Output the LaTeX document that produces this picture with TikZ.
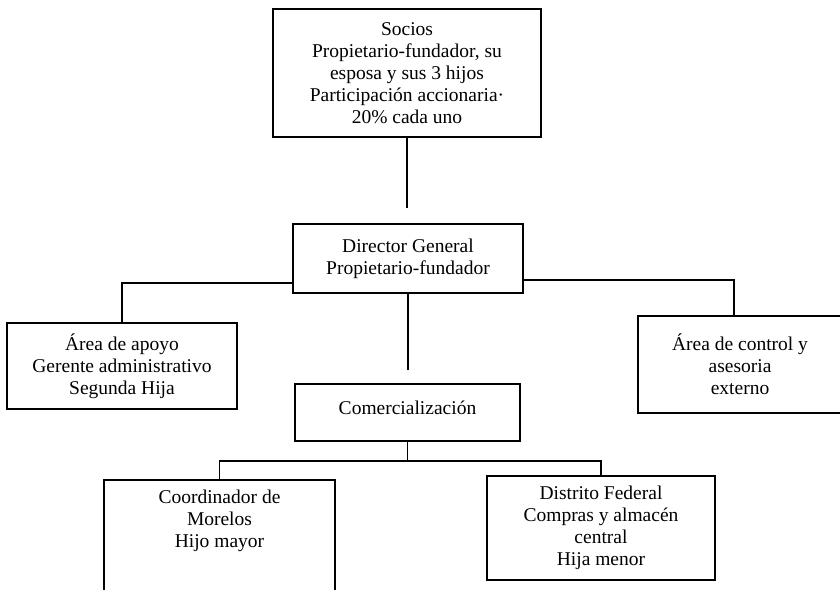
\documentclass[tikz,border=0pt]{standalone}
\usepackage{fontspec}
\setmainfont{Liberation Serif}
\begin{document}
\begin{tikzpicture}[x=1pt,y=-1pt,
  box/.style={draw, line width=1.5pt, align=center, inner sep=0pt,
    font=\fontsize{19.5}{22}\selectfont},
  txt/.style={align=center, inner sep=0pt, font=\fontsize{19.5}{22}\selectfont},
  link/.style={line width=1.5pt}]
\fill[white] (0,0) rectangle (840,589);
\useasboundingbox (0,0) rectangle (840,589);
\clip (0,0) rectangle (840,589);

% boxes of the chart
\node[box, minimum width=268, minimum height=128] (socios) at (407,73)
  {Socios\\Propietario-fundador, su\\esposa y sus 3 hijos\\Participación accionaria·\\20\% cada uno};
\node[box, minimum width=230, minimum height=69] (director) at (408,258.5)
  {Director General\\Propietario-fundador};
\node[box, minimum width=230, minimum height=86] (apoyo) at (122,366)
  {Área de apoyo\\Gerente administrativo\\Segunda Hija};
\node[box, minimum width=204, minimum height=97] (control) at (740,364.5)
  {Área de control y\\asesoria\\externo};
\node[box, minimum width=225, minimum height=57] (comer) at (407.5,412.5) {};
\node[txt] (comertxt) at (407.5,408) {Comercialización};
\node[box, minimum width=231, minimum height=140] (coordbox) at (219.5,550) {};
\node[txt, anchor=north] (coordtxt) at ([yshift=-11pt]coordbox.north)
  {Coordinador de\\Morelos\\Hijo mayor};
\node[box, minimum width=228, minimum height=104] (df) at (601,528)
  {Distrito Federal\\Compras y almacén\\central\\Hija menor};

% connectors
\coordinate (gapA) at (407,208);
\coordinate (gapB) at (408,370);
\draw[link] (socios.south) -- (gapA);
\draw[link] (director.south) -- (gapB);
\draw[link] ([yshift=11pt]director.south west) -| (apoyo.north);
\draw[link] ([yshift=14pt]director.south east) -| ([xshift=-6pt]control.north);
\draw[link] (comer.south) -- ++(0,19) coordinate (split);
\draw[link] (coordbox.north) |- (split) -| (df.north);
\end{tikzpicture}
\end{document}
